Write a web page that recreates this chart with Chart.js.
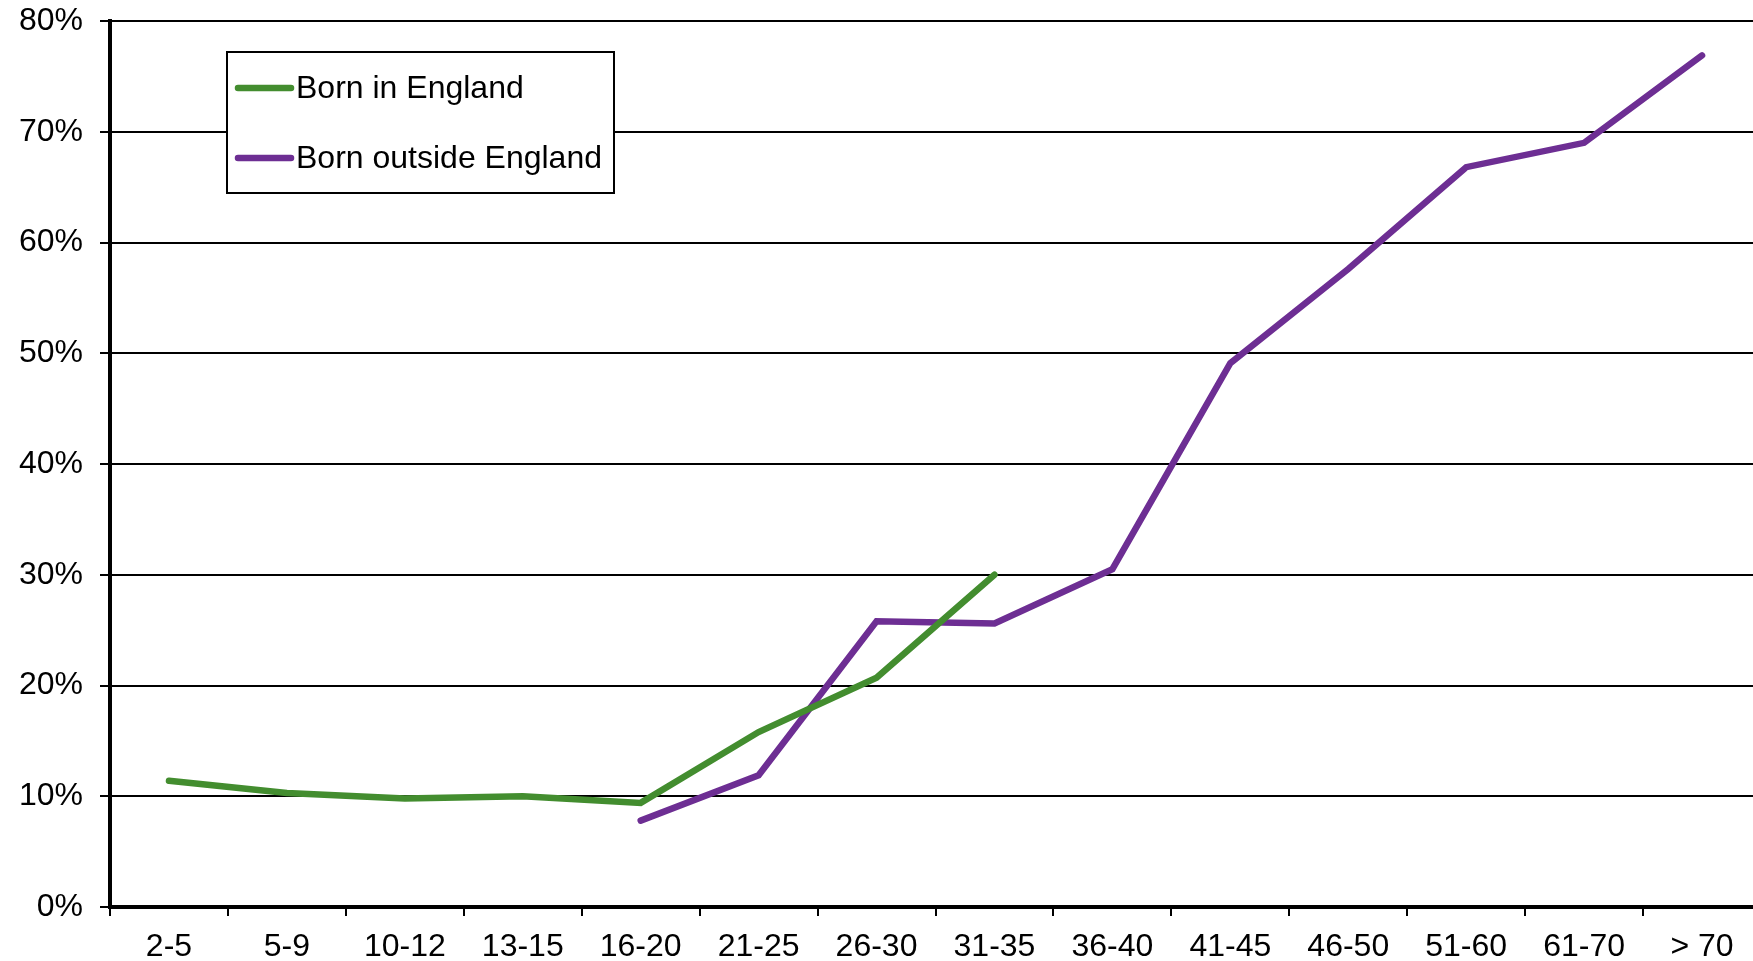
<!DOCTYPE html>
<html>
<head>
<meta charset="utf-8">
<style>
  html, body { margin: 0; padding: 0; background: #ffffff; overflow: hidden; }
  #wrap { width: 1753px; height: 961px; position: relative; overflow: hidden; }
  #chart { display: block; }
</style>
<script src="https://cdn.jsdelivr.net/npm/chart.js@4/dist/chart.umd.min.js"></script>
</head>
<body>
<div id="wrap"><canvas id="chart" width="1761" height="961"></canvas></div>
<script>
// Age groups along the horizontal axis
const ageGroups = ['2-5', '5-9', '10-12', '13-15', '16-20', '21-25', '26-30', '31-35',
                   '36-40', '41-45', '46-50', '51-60', '61-70', '> 70'];

// Share (%) for each group; null where a series has no value
const bornInEngland = [11.4, 10.3, 9.8, 10.0, 9.4, 15.8, 20.7, 30.0,
                       null, null, null, null, null, null];
const bornOutsideEngland = [null, null, null, null, 7.8, 11.9, 25.8, 25.6,
                            30.5, 49.1, 57.6, 66.8, 69.0, 76.9];

const seriesNames = ['Born in England', 'Born outside England'];
const seriesColors = ['#438D2F', '#6D2E93'];

const yTickValues = [0, 10, 20, 30, 40, 50, 60, 70, 80];

const FONT = '"Liberation Sans", Arial, sans-serif';
const LINE_W = 6.5;

// Boxed legend drawn inside the plot area, top-left
const boxedLegend = {
  id: 'boxedLegend',
  afterDraw(chart) {
    const ctx = chart.ctx;
    const x0 = 227, y0 = 52, w = 387, h = 141;
    ctx.save();
    ctx.fillStyle = '#ffffff';
    ctx.fillRect(x0, y0, w, h);
    ctx.strokeStyle = '#000000';
    ctx.lineWidth = 2;
    ctx.strokeRect(x0, y0, w, h);
    const rows = [88, 158];
    chart.data.datasets.forEach((ds, i) => {
      const y = rows[i];
      ctx.strokeStyle = ds.borderColor;
      ctx.lineWidth = LINE_W;
      ctx.lineCap = 'round';
      ctx.beginPath();
      ctx.moveTo(238, y);
      ctx.lineTo(291, y);
      ctx.stroke();
      ctx.fillStyle = '#000000';
      ctx.font = '32px ' + FONT;
      ctx.textBaseline = 'middle';
      ctx.textAlign = 'left';
      ctx.fillText(ds.label, 296, y + 1);
    });
    ctx.restore();
  }
};

new Chart(document.getElementById('chart'), {
  type: 'line',
  data: {
    labels: ageGroups,
    datasets: [
      {
        label: seriesNames[0],
        data: bornInEngland,
        borderColor: seriesColors[0],
        backgroundColor: seriesColors[0],
        borderWidth: LINE_W,
        pointRadius: 0,
        borderCapStyle: 'round',
        borderJoinStyle: 'miter',
        tension: 0,
        spanGaps: false
      },
      {
        label: seriesNames[1],
        data: bornOutsideEngland,
        borderColor: seriesColors[1],
        backgroundColor: seriesColors[1],
        borderWidth: LINE_W,
        pointRadius: 0,
        borderCapStyle: 'round',
        borderJoinStyle: 'miter',
        tension: 0,
        spanGaps: false
      }
    ]
  },
  options: {
    responsive: false,
    maintainAspectRatio: false,
    animation: false,
    devicePixelRatio: 1,
    layout: { padding: { top: 21, right: 0, left: 0, bottom: 0 } },
    plugins: {
      legend: { display: false },
      tooltip: { enabled: false }
    },
    scales: {
      x: {
        type: 'category',
        offset: true,
        grid: {
          display: true,
          drawOnChartArea: false,
          drawTicks: true,
          tickLength: 9,
          color: '#000000',
          lineWidth: 2,
          offset: true
        },
        border: { display: true, color: '#000000', width: 4 },
        ticks: {
          color: '#000000',
          font: { family: FONT, size: 32 },
          padding: 12,
          maxRotation: 0,
          autoSkip: false
        },
        afterFit(scale) {
          scale.height = 54;
          scale.paddingLeft = 0;
          scale.paddingRight = 0;
        }
      },
      y: {
        min: 0,
        max: 80,
        afterBuildTicks(scale) {
          scale.ticks = yTickValues.map(v => ({ value: v }));
        },
        grid: {
          color: '#000000',
          lineWidth: 2,
          drawTicks: true,
          tickLength: 10
        },
        border: { display: true, color: '#000000', width: 4 },
        ticks: {
          color: '#000000',
          font: { family: FONT, size: 32 },
          padding: 17,
          callback: v => v + '%'
        },
        afterFit(scale) {
          scale.width = 110;
          scale.paddingTop = 0;
          scale.paddingBottom = 0;
        }
      }
    }
  },
  plugins: [boxedLegend]
});
</script>
</body>
</html>
